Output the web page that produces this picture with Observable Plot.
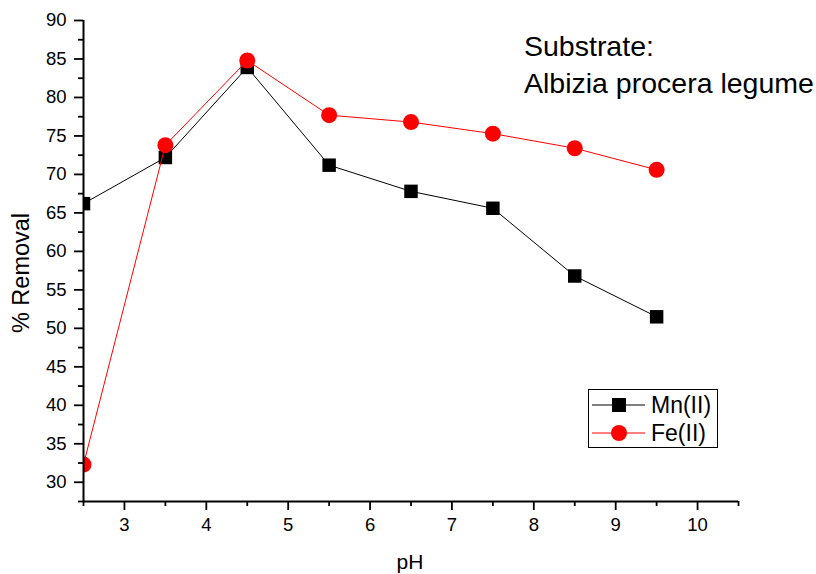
<!DOCTYPE html>
<html>
<head>
<meta charset="utf-8">
<script src="https://cdn.jsdelivr.net/npm/d3@7"></script>
<script src="https://cdn.jsdelivr.net/npm/@observablehq/plot@0.6"></script>
<style>
  html, body { margin: 0; padding: 0; background: #fff; }
  #wrap { position: relative; width: 816px; height: 574px; font-family: "Liberation Sans", Arial, sans-serif; }
  #overlay { position: absolute; left: 0; top: 0; pointer-events: none; }
</style>
</head>
<body>
<div id="wrap"></div>
<script>
// ---- data ----
const pH = [2.5, 3.5, 4.5, 5.5, 6.5, 7.5, 8.5, 9.5];
const mnRemoval = [66.2, 72.2, 83.9, 71.2, 67.8, 65.6, 56.8, 51.5];
const feRemoval = [32.3, 73.8, 84.8, 77.7, 76.8, 75.3, 73.4, 70.6];
const seriesNames = ["Mn(II)", "Fe(II)"];
const xMajorTicks = [3, 4, 5, 6, 7, 8, 9, 10];
const xMinorTicks = [2.5, 3.5, 4.5, 5.5, 6.5, 7.5, 8.5, 9.5, 10.5];
const yMajorTicks = [30, 35, 40, 45, 50, 55, 60, 65, 70, 75, 80, 85, 90];
const yMinorTicks = [27.5, 32.5, 37.5, 42.5, 47.5, 52.5, 57.5, 62.5, 67.5, 72.5, 77.5, 82.5, 87.5];
const xDomain = [2.5, 10.5];
const yDomain = [27.5, 90];
const xTitle = "pH";
const yTitle = "% Removal";
const noteLines = ["Substrate:", "Albizia procera legume"];

const mn = pH.map((x, i) => ({x, y: mnRemoval[i]}));
const fe = pH.map((x, i) => ({x, y: feRemoval[i]}));

const W = 816, H = 574;
const mL = 83, mR = 78, mT = 20, mB = 73;

const chart = Plot.plot({
  width: W, height: H,
  marginLeft: mL, marginRight: mR, marginTop: mT, marginBottom: mB,
  style: {fontFamily: "'Liberation Sans', Arial, sans-serif", fontSize: "18.5px", color: "#000", background: "#fff"},
  x: {domain: xDomain},
  y: {domain: yDomain},
  marks: [
    Plot.axisX({ticks: xMinorTicks, tickSize: 5, tickFormat: () => "", strokeWidth: 1.8, label: null}),
    Plot.axisX({ticks: xMajorTicks, tickSize: 9, tickPadding: 7, strokeWidth: 1.8, fontSize: 18.5, tickFormat: d => String(d), label: null}),
    Plot.axisY({ticks: yMinorTicks, tickSize: 5, tickFormat: () => "", strokeWidth: 1.8, label: null}),
    Plot.axisY({ticks: yMajorTicks, tickSize: 9, tickPadding: 8, strokeWidth: 1.8, fontSize: 18.5, tickFormat: d => String(d), label: null}),
    Plot.line(mn, {x: "x", y: "y", stroke: "#000", strokeWidth: 1}),
    Plot.dot(mn, {x: "x", y: "y", symbol: "square", r: 7.6, fill: "#000", stroke: "none"}),
    Plot.line(fe, {x: "x", y: "y", stroke: "#ff0000", strokeWidth: 1}),
    Plot.dot(fe, {x: "x", y: "y", symbol: "circle", r: 8, fill: "#ff0000", stroke: "none"}),
    Plot.ruleX([xDomain[0]], {stroke: "#000", strokeWidth: 2}),
    Plot.ruleY([yDomain[0]], {stroke: "#000", strokeWidth: 2})
  ]
});
const wrap = document.getElementById("wrap");
wrap.appendChild(chart);

// clip data marks to the plot frame (as in the reference): wrap them in a clipped group
const svgEl = chart.tagName.toLowerCase() === "svg" ? chart : chart.querySelector("svg");
const svg = d3.select(svgEl);
const clipId = "frameclip";
svg.append("defs").append("clipPath").attr("id", clipId)
  .append("rect").attr("x", mL).attr("y", mT).attr("width", W - mL - mR).attr("height", H - mT - mB);
const dataNodes = Array.from(svgEl.children).filter(n => {
  const lab = n.getAttribute && n.getAttribute("aria-label");
  return lab === "dot" || lab === "line";
});
const ruleNodes = Array.from(svgEl.querySelectorAll("[aria-label='rule']"));
const holder = document.createElementNS("http://www.w3.org/2000/svg", "g");
holder.setAttribute("clip-path", `url(#${clipId})`);
svgEl.appendChild(holder);
dataNodes.forEach(n => holder.appendChild(n));
// axis lines on top of the data
ruleNodes.forEach(n => svgEl.appendChild(n));

// ---- overlay: titles, note, legend ----
const ov = d3.select(wrap).append("svg").attr("id", "overlay")
  .attr("width", W).attr("height", H)
  .style("font-family", "'Liberation Sans', Arial, sans-serif");

ov.append("text").attr("x", 410).attr("y", 569).attr("text-anchor", "middle")
  .attr("font-size", 21).text(xTitle);
ov.append("text").attr("transform", "translate(29,273) rotate(-90)").attr("text-anchor", "middle")
  .attr("font-size", 23.5).text(yTitle);

noteLines.forEach((t, i) => {
  ov.append("text").attr("x", 524).attr("y", 56 + i * 37).attr("font-size", 28.5).text(t);
});

// legend
const lg = ov.append("g");
lg.append("rect").attr("x", 588.5).attr("y", 389.5).attr("width", 129).attr("height", 58)
  .attr("fill", "#fff").attr("stroke", "#000").attr("stroke-width", 1);
const legendColors = ["#000", "#ff0000"];
seriesNames.forEach((name, i) => {
  const cy = 405 + i * 28;
  lg.append("line").attr("x1", 592).attr("x2", 645).attr("y1", cy).attr("y2", cy)
    .attr("stroke", legendColors[i]).attr("stroke-width", 1);
  if (i === 0) {
    lg.append("rect").attr("x", 612).attr("y", cy - 7).attr("width", 14).attr("height", 14).attr("fill", "#000");
  } else {
    lg.append("circle").attr("cx", 619).attr("cy", cy).attr("r", 8).attr("fill", "#ff0000");
  }
  lg.append("text").attr("x", 651).attr("y", cy + 8).attr("font-size", 23).text(name);
});
</script>
</body>
</html>
